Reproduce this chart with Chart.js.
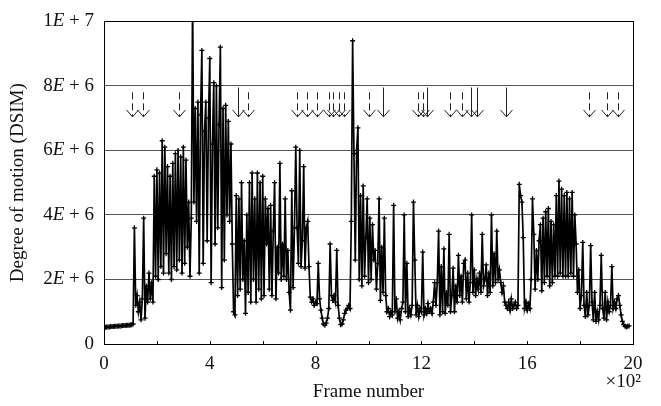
<!DOCTYPE html>
<html>
<head>
<meta charset="utf-8">
<script src="https://cdn.jsdelivr.net/npm/chart.js@4.4.0/dist/chart.umd.min.js"></script>
<style>
  html, body { margin: 0; padding: 0; background: #fff; }
  canvas { display: block; }
</style>
</head>
<body>
<canvas id="dsim-chart" width="661" height="406"></canvas>
<script>
// one sample every 5 frames, starting at frame 0
var frameStep = 5;

// degree of motion, in units of 1E+6
var dsim = [
  0.52,0.52,0.53,0.53,0.53,0.54,0.54,0.54,0.55,0.55,0.55,0.56,0.56,0.56,0.57,0.57,0.57,0.58,0.58,0.58,
  0.59,0.60,0.62,3.60,1.20,1.50,1.00,1.30,0.75,1.40,3.90,0.80,1.80,1.30,2.20,1.40,1.90,1.30,5.20,2.10,
  5.40,2.00,5.30,2.40,6.30,2.20,6.10,2.80,5.50,2.20,5.20,2.00,5.60,2.40,5.90,2.30,6.00,2.60,5.80,2.20,
  6.10,2.50,5.70,3.00,4.40,2.10,3.90,10.8,4.40,7.30,3.80,7.50,2.20,7.10,9.10,2.50,6.60,7.50,3.20,7.00,
  8.85,1.90,6.20,8.10,3.10,8.00,3.60,6.80,9.20,1.75,7.30,2.60,7.40,4.00,6.90,3.80,6.20,3.10,1.00,0.90,
  4.60,1.50,4.50,1.70,5.00,2.00,3.20,0.95,4.00,1.60,5.00,1.30,5.30,2.00,4.50,1.30,5.30,1.70,5.00,1.40,
  5.20,1.50,4.50,3.10,4.20,1.70,4.30,1.50,3.50,5.00,1.40,3.00,2.20,5.60,2.00,3.10,2.10,4.50,2.00,2.90,
  1.60,1.05,4.75,1.75,3.60,6.10,3.60,2.50,6.00,2.40,3.20,5.50,2.35,3.60,3.80,2.40,1.45,1.30,1.40,1.20,
  1.30,1.25,2.50,1.40,1.05,0.80,0.62,0.58,0.65,0.80,1.10,3.10,1.50,1.35,1.50,1.30,2.90,1.20,0.80,0.60,
  0.62,0.75,0.95,1.05,1.10,1.20,1.10,3.80,9.40,5.90,2.60,6.00,6.70,2.00,4.60,1.80,4.90,2.10,3.30,4.50,
  1.90,3.90,2.00,3.70,2.60,2.90,1.70,2.50,4.50,1.35,3.00,1.60,3.90,1.50,1.00,1.10,0.85,1.00,0.90,4.30,
  1.00,1.40,0.80,1.00,0.75,1.10,1.30,4.00,1.00,2.50,0.85,1.10,0.90,1.20,4.40,2.60,0.90,1.20,0.85,1.10,
  1.00,2.85,0.90,1.10,0.95,1.25,1.00,1.10,0.95,1.30,1.90,1.20,1.90,3.50,0.90,2.40,1.00,2.95,0.95,1.60,
  1.20,3.40,1.00,1.50,2.35,1.00,1.80,1.30,2.75,1.50,2.10,1.30,2.50,2.60,1.40,2.20,1.30,1.90,4.00,1.60,
  2.30,1.50,2.00,1.70,2.20,1.60,3.40,1.80,2.00,2.45,1.50,2.20,1.60,4.00,1.80,2.80,1.90,3.50,2.00,2.30,
  1.90,1.60,1.80,1.30,1.20,1.10,1.30,1.05,1.40,1.10,1.20,1.30,1.10,1.20,4.95,4.60,4.40,3.30,1.10,1.30,
  1.05,1.25,1.10,2.00,4.50,3.40,1.70,2.90,2.00,3.20,3.70,1.65,3.90,1.90,4.10,2.10,4.20,1.80,3.80,1.90,
  3.70,2.10,4.60,2.10,5.05,2.20,4.80,2.10,4.60,2.10,4.70,2.10,4.50,2.20,4.70,2.10,4.00,3.10,1.60,2.30,
  1.10,1.50,3.15,1.20,0.85,1.60,0.90,1.20,3.05,1.30,0.75,1.60,0.70,1.00,0.75,1.20,2.75,1.10,0.80,1.60,
  0.75,1.30,1.00,1.20,2.40,1.10,1.30,1.10,1.40,1.50,1.20,0.90,0.70,0.60,0.55,0.53,0.55,0.56
];

var xTickLabels = ['0', '4', '8', '12', '16', '20'];
// y tick labels as [mantissa, exponent]; the E is set in italics
var yTickLabels = [['0', ''], ['2', '6'], ['4', '6'], ['6', '6'], ['8', '6'], ['1', '7']];

// shot-change markers along the top (frame numbers)
var dashedArrowFrames = [105, 149, 284, 545, 731, 769, 807, 849, 867, 890, 909, 1000, 1189, 1205, 1307, 1352, 1833, 1902, 1943];
var solidArrowFrames = [508, 1053, 1220, 1386, 1409, 1519];

var serif = "'Liberation Serif', 'DejaVu Serif', serif";

var points = [];
for (var i = 0; i < dsim.length; i++) {
  points.push({ x: i * frameStep, y: dsim[i] });
}

function drawArrow(ctx, px, top, tip, dashed) {
  ctx.beginPath();
  ctx.setLineDash(dashed ? [7, 4] : []);
  ctx.moveTo(px, top);
  ctx.lineTo(px, tip);
  ctx.stroke();
  ctx.setLineDash([]);
  ctx.beginPath();
  ctx.moveTo(px - 6, tip - 7);
  ctx.lineTo(px, tip);
  ctx.lineTo(px + 6, tip - 7);
  ctx.stroke();
}

// draws "8E + 6" right aligned, with an italic E
function drawSciLabel(ctx, parts, right, y) {
  var plain = '19px ' + serif;
  var italic = 'italic 19px ' + serif;
  var pieces = parts[1] === '' ? [[parts[0], plain]] :
    [[parts[0], plain], ['E', italic], [' + ' + parts[1], plain]];
  var total = 0;
  pieces.forEach(function(p) { ctx.font = p[1]; total += ctx.measureText(p[0]).width; });
  var x = right - total;
  pieces.forEach(function(p) {
    ctx.font = p[1];
    ctx.fillText(p[0], x, y);
    x += ctx.measureText(p[0]).width;
  });
}

var extras = {
  id: 'extras',
  afterDatasetsDraw: function(chart) {
    var ctx = chart.ctx;
    var xs = chart.scales.x;
    var ys = chart.scales.y;
    var area = chart.chartArea;
    ctx.save();
    ctx.strokeStyle = '#000';
    ctx.lineWidth = 1;

    // small inward ticks on the x axis
    for (var f = 200; f < 2000; f += 200) {
      var tx = Math.round(xs.getPixelForValue(f)) + 0.5;
      ctx.beginPath();
      ctx.moveTo(tx, area.bottom);
      ctx.lineTo(tx, area.bottom - 3);
      ctx.stroke();
    }

    // plot frame
    ctx.strokeRect(Math.round(area.left) + 0.5, Math.round(area.top) + 0.5,
                   Math.round(area.right - area.left), Math.round(area.bottom - area.top));

    // arrows
    var top = ys.getPixelForValue(7.8);
    var tip = ys.getPixelForValue(7.04);
    ctx.strokeStyle = '#222';
    dashedArrowFrames.forEach(function(f) {
      drawArrow(ctx, Math.round(xs.getPixelForValue(f)) + 0.5, top, tip, true);
    });
    var topSolid = ys.getPixelForValue(7.95);
    solidArrowFrames.forEach(function(f) {
      drawArrow(ctx, Math.round(xs.getPixelForValue(f)) + 0.5, topSolid, tip, false);
    });

    // y tick labels
    ctx.fillStyle = '#111';
    ctx.textAlign = 'left';
    ctx.textBaseline = 'middle';
    yTickLabels.forEach(function(parts, k) {
      drawSciLabel(ctx, parts, area.left - 10, ys.getPixelForValue(k * 2));
    });

    // axis multiplier
    ctx.font = '19px ' + serif;
    ctx.textAlign = 'right';
    ctx.fillText('\u00d710\u00b2', area.right + 8, 382);
    ctx.restore();
  }
};

new Chart(document.getElementById('dsim-chart'), {
  type: 'line',
  data: {
    datasets: [{
      data: points,
      borderColor: '#000',
      borderWidth: 1.7,
      pointStyle: 'cross',
      pointRadius: 2.5,
      pointBorderWidth: 1.3,
      pointBorderColor: '#000',
      tension: 0
    }]
  },
  options: {
    responsive: false,
    animation: false,
    devicePixelRatio: 1,
    layout: { padding: { top: 16, right: 28, left: 0, bottom: 0 } },
    plugins: {
      legend: { display: false },
      tooltip: { enabled: false }
    },
    scales: {
      x: {
        type: 'linear',
        min: 0,
        max: 2000,
        grid: { display: false },
        border: { display: true, color: '#000', width: 1 },
        ticks: {
          stepSize: 400,
          maxRotation: 0,
          padding: 1,
          color: '#111',
          font: { family: serif, size: 19 },
          callback: function(v) { return xTickLabels[v / 400]; }
        },
        title: {
          display: true,
          text: 'Frame number',
          color: '#111',
          font: { family: serif, size: 19 },
          padding: { top: 0, bottom: 3 }
        },
        afterFit: function(s) { s.height = 62; }
      },
      y: {
        min: 0,
        max: 10,
        grid: { color: '#555', lineWidth: 1, drawTicks: false },
        border: { display: true, color: '#000', width: 1 },
        ticks: {
          stepSize: 2,
          padding: 10,
          color: 'rgba(0,0,0,0)',
          font: { family: serif, size: 19 },
          callback: function(v) {
            var p = yTickLabels[v / 2];
            return p[1] === '' ? p[0] : p[0] + 'E + ' + p[1];
          }
        },
        title: {
          display: true,
          text: 'Degree of motion (DSIM)',
          color: '#111',
          font: { family: serif, size: 19 },
          padding: { top: 7, bottom: 0 }
        },
        afterFit: function(s) { s.width = 104; }
      }
    }
  },
  plugins: [extras]
});
</script>
</body>
</html>
